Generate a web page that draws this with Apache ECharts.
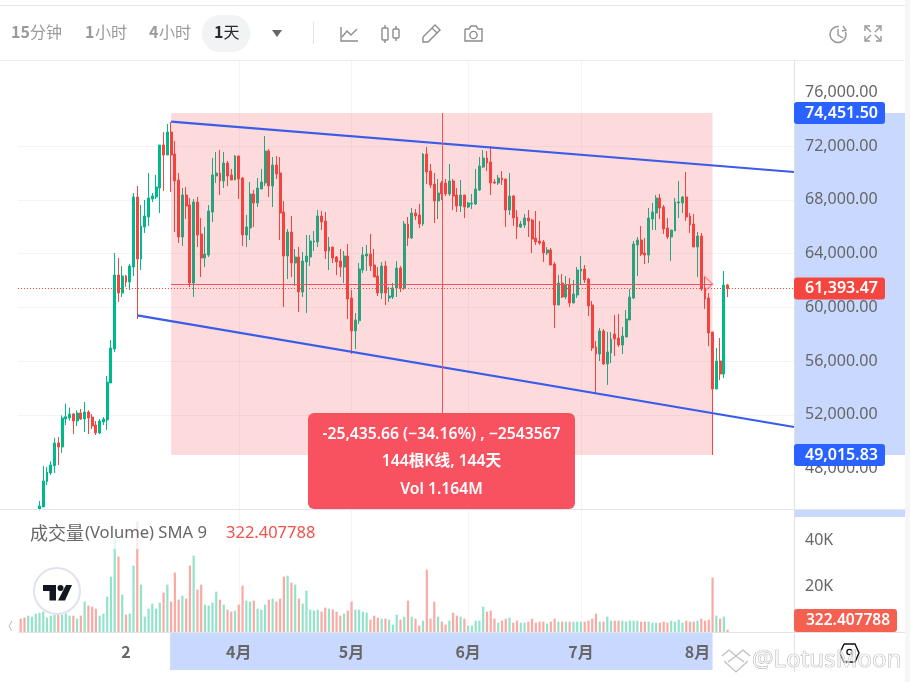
<!DOCTYPE html>
<html><head><meta charset="utf-8">
<style>html,body{margin:0;padding:0;background:#fff}#c{width:910px;height:682px}</style>
<script src="https://cdn.jsdelivr.net/npm/echarts@6/dist/echarts.min.js"></script>
</head><body><div id="c"></div>
<script>
// ---------- data ----------
const firstCandle = 5; // bars 0-4 lie below the visible price range
const opens = [
45000,45149,47033,47678,48223,
49909,49611,51694,51768,52066, 51545,52140,51694,52214,51842, 51248,50653,51471,51619,54371,
56900,62403,61065,62329,61883, 63000,68205,63594,65974,66717, 68056,68205,68874,72072,71328,
73039,71403,69469,65230,68353, 67610,61809,67833,65453,63668, 63891,67089,69767,69990,69395,
70733,69841,69469,71254,69618, 65379,65899,68428,67758,68800, 69246,71626,69023,70584,69989,
67089,63816,65601,63296,63742, 61139,63370,63742,64857,64857, 66791,66419,64188,64486,63742,
63445,62998,63816,60693,58239, 59002,62775,63816,63965,63147, 62329,61064,63072,60693,60767,
61436,62923,61436,66196,65155, 67014,66865,66196,71402,70138, 69171,67907,69245,69245,68427,
69394,68353,67535,68353,67460, 67684,67684,68725,70435,71105, 70807,69319,69245,69617,69543,
67237,68279,66717,65973,66122, 66643,66494,65155,64932,64858, 64040,64263,63221,60172,61809,
60767,61660,60321,60916,62701, 62850,62106,60172,57049,56528, 58239,55785,56603,58016,57718,
57198,57792,59057,60693,64635, 65007,64040,63891,66568,67014, 68130,67461,65899,65230,65676,
67758,67758,68204,66791,66196, 64486,65304,61436,60693,58164, 53925,56007,55041,61660];
const closes = [
45224,47083,47752,48273,49909,
49611,51768,51867,52066,51545, 52140,51694,52214,51768,51173, 50653,51545,51694,54446,56974,
62403,61065,62329,61883,63073, 68205,63594,66048,66792,68130, 68279,68948,72072,71328,73039,
71328,69395,65230,68353,67535, 61809,67833,65379,63668,63966, 67163,69841,69990,69395,70733,
69767,69469,71254,69543,65379, 65974,68428,67758,68874,69320, 71626,69023,70584,69915,67014,
63816,65601,63296,63742,61139, 63445,63816,64932,64932,66791, 66345,64188,64486,63667,63370,
62998,63816,60618,58239,59057, 62849,63890,63965,63072,62254, 61064,63072,61064,60841,61436,
62923,61436,66196,65155,67014, 66791,66196,71402,70063,69097, 67907,68502,68427,68427,69394,
68279,67535,68353,67460,67758, 67758,68799,70509,71105,70733, 69245,69245,69617,69468,67237,
68279,66643,65973,66196,66643, 66419,65081,64858,64783,64040, 64263,63147,60172,61809,60767,
61660,60321,60990,62775,62850, 62032,60098,56974,56528,58239, 55785,56677,57644,57644,57198,
57867,59131,60767,64709,65007, 63965,63891,66643,67089,68130, 67386,65824,65230,65750,67832,
67832,68204,66717,66122,64486, 65304,61362,60618,58090,53925, 56007,55041,61660,61393.47];
const lows = [
44900,45149,46785,47529,47678,
48273,49165,51248,51570,50578, 51173,51619,50727,50578,50950, 50504,50578,51248,50876,54371,
56677,60396,60768,61511,61288, 62329,59131,62775,65528,66048, 67833,68056,67015,68651,71328,
68577,65602,64784,64561,66568, 61511,60768,64486,62255,63000, 63742,66345,69246,68353,68874,
69023,69469,69469,68056,64561, 64486,65007,65974,67461,68800, 69023,68205,67461,69543,65006,
60023,62106,62255,61585,59652, 60767,59577,63072,64188,64486, 65750,63593,62775,63296,62403,
62255,61808,59131,56528,56900, 58759,62552,62700,62700,62254, 60841,60618,60172,60395,60618,
60767,61139,61288,64560,65081, 66493,65898,66047,69171,68874, 66271,66568,67981,68279,68279,
67237,67089,67089,66642,67386, 67312,67609,68650,70361,70138, 68353,69171,69097,69097,65973,
66866,66048,65081,65899,65899, 65230,64040,64634,64634,63370, 63891,63147,58462,60172,60693,
60618,60023,60321,60693,61660, 61809,59354,56751,53553,56007, 55710,54223,55859,56379,57049,
56528,57792,59057,60618,62329, 63816,63221,63296,65750,65750, 66568,65453,65081,63444,65676,
66643,67014,66420,65527,64486, 62255,61213,59875,57123,49015.83, 53925,54595,54744,60767];
const highs = [
45596,48199,48124,48546,50281,
50355,51967,52834,52537,52140, 52338,52438,52958,52338,52066, 51545,51694,51842,54892,57569,
64040,63668,63073,62403,63222, 68502,69023,67610,67982,69990, 68502,69841,72072,73039,73634,
73782,72370,69990,68874,68948, 68130,68056,68205,66643,65974, 67610,71105,71551,71700,71551,
70882,70287,71328,71254,69692, 66866,69320,68725,69618,70287, 72741,71774,71180,71254,71179,
67907,65824,66791,64337,64486, 64114,65378,65378,65676,67237, 67163,67089,65229,64486,63816,
64337,64188,64709,61288,59577, 63296,64486,64634,65452,64337, 62998,63370,63444,61510,61808,
63444,63072,66419,66717,67386, 67312,67684,71476,71923,70658, 69989,69543,69394,69543,70658,
69543,68873,69468,68353,67832, 68427,70286,71179,71699,71625, 71997,69543,69840,70138,69543,
69989,68353,67237,66419,66940, 67237,66568,67163,66419,65007, 64486,64412,63370,62404,62478,
62329,62180,62032,63000,63816, 63147,62180,60470,57495,58462, 58387,58164,58164,59429,59503,
58536,59800,61362,64932,65230, 66048,65155,67386,67758,68353, 68427,67609,66643,65750,68130,
69394,68279,70064,67014,66940, 65601,65527,62255,61065,58164, 56974,57718,62701,61734];
const volumes = [
5800,6235,7105,6670,7975, 8410,8845,6235,7105,7540, 7540,7540,7975,7105,7105, 5800,7105,13195,11455,11020,
10150,7105,7975,15370,24070, 40890,32770,16240,7540,7975, 28855,47995,20590,6670,10150, 12325,10150,12760,17110,20590,
13195,25810,14065,15805,14500, 28855,33205,18415,20590,11890, 11455,12760,17545,14065,11890, 9715,8845,9280,11890,20155,
13630,13195,13630,10150,9715, 11890,14065,14500,13195,14500, 24070,24505,21460,20590,14500, 12325,17980,9715,9280,9715,
8845,10585,10150,9715,8845, 7105,7975,9280,13195,9715, 9715,8845,8410,5365,7105, 6235,5800,5800,5365,3190,
7540,5365,6670,13630,6670, 5800,2755,4930,27115,5800, 13195,6670,4495,3190,4930, 8410,7105,6670,5800,2755,
2755,4930,4930,11020,8845, 9280,5800,4060,4930,5800, 6235,4060,4930,4060,4060, 4495,5800,4060,4495,4495,
3625,4495,5800,4495,4495, 4495,4495,4495,4495,4495, 4495,4930,5800,7975,4495, 4495,6670,4930,4930,4930,
4930,4495,4930,4930,4930, 4495,4495,4495,4060,4060, 4060,4495,4060,4930,4495, 5365,4060,4930,4495,4495,
4930,5800,4930,5365,23635, 7105,5800,6670,1015];
const firstBarsUp = [false,false,true,true,true];
const priceTicks = [48000,52000,56000,60000,64000,68000,72000,76000];
const volumeTicks = [20000,40000];
const monthBars = [28,58,88,119,149,180];
const monthLabels = ['2','4月','5月','6月','7月','8月'];
const rangeStartBar = 40, rangeEndBar = 184;
const rangeTop = 74451.50, rangeBottom = 49015.83, rangeMid = 61733.67;
const rangeMidBar = 112;
const lastPrice = 61393.47, lastVolumeText = '322.407788';
const upperLineBars = [40,205.66], upperLinePrices = [73807,70064];
const lowerLineBars = [31,205.66], lowerLinePrices = [59404,51100];
const xMin = -0.718, xMax = 205.66;

// ---------- palette ----------
const GREEN='#00b98a', RED='#f4463f', VOLG='#93e2ca', VOLR='#f9aaa4', BAND='#c9d8ff', BLUE='#2962ff',
      GRID='#f3f4f6', AX='#e0e1e4', TXT='#666666', LINE='#3a5ce8';
const FONT='"Noto Sans","Noto Sans CJK SC",sans-serif';
const CJK='"Noto Sans CJK SC","Noto Sans",sans-serif';

const candleData = opens.map((o,k)=>[k+firstCandle,o,closes[k],lows[k],highs[k]]);
const volumeData = volumes.map((v,i)=>{
  const up = i<firstCandle ? firstBarsUp[i] : closes[i-firstCandle]>=opens[i-firstCandle];
  return {value:[i,v],itemStyle:{color:up?VOLG:VOLR}};
});
const fmtPrice = v => v.toLocaleString('en-US',{minimumFractionDigits:2,maximumFractionDigits:2});
const vSplit = {show:true,showMinLine:false,showMaxLine:false,lineStyle:{color:GRID,width:1}};

const chart = echarts.init(document.getElementById('c'),null,{renderer:'canvas'});
chart.setOption({
  animation:false,
  backgroundColor:'#fff',
  grid:[{left:18,top:60,width:776,height:449,containLabel:false},
        {left:18,top:510,width:776,height:122,containLabel:false}],
  xAxis:[
    {type:'value',gridIndex:0,min:xMin,max:xMax,
     axisLine:{show:false,onZero:false},axisTick:{show:false,customValues:monthBars},axisLabel:{show:false,customValues:monthBars},
     splitLine:vSplit},
    {type:'value',gridIndex:1,min:xMin,max:xMax,
     axisLine:{show:false,onZero:false},axisTick:{show:false,customValues:monthBars},
     axisLabel:{show:true,customValues:monthBars,margin:12,color:TXT,fontSize:16,fontWeight:'bold',fontFamily:CJK,
       formatter:v=>monthLabels[monthBars.indexOf(v)]||''},
     splitLine:vSplit}
  ],
  yAxis:[
    {type:'value',gridIndex:0,position:'right',min:45000,max:78394,
     axisLine:{show:true,onZero:false,lineStyle:{color:AX}},axisTick:{show:false,customValues:priceTicks},
     axisLabel:{customValues:priceTicks,margin:11,color:TXT,fontSize:16,fontFamily:FONT,formatter:fmtPrice},
     splitLine:vSplit},
    {type:'value',gridIndex:1,position:'right',min:0,max:53043,
     axisLine:{show:true,onZero:false,lineStyle:{color:AX}},axisTick:{show:false,customValues:volumeTicks},
     axisLabel:{customValues:volumeTicks,margin:11,color:TXT,fontSize:16,fontFamily:FONT,formatter:v=>(v/1000)+'K'},
     splitLine:vSplit}
  ],
  series:[
    {type:'candlestick',xAxisIndex:0,yAxisIndex:0,data:candleData,barWidth:2.4,z:2,
     encode:{x:0,y:[1,2,3,4]},
     itemStyle:{color:GREEN,color0:RED,borderColor:GREEN,borderColor0:RED,borderWidth:1}},
    {type:'bar',xAxisIndex:1,yAxisIndex:1,data:volumeData,barWidth:2.2,z:2},
    {type:'line',xAxisIndex:0,yAxisIndex:0,data:[],z:5,silent:true,
     markArea:{z:5,silent:true,itemStyle:{color:'rgba(242,54,69,0.18)',borderWidth:0},
       data:[[{coord:[rangeStartBar,rangeTop]},{coord:[rangeEndBar,rangeBottom]}]]},
     markLine:{z:7,silent:true,symbol:'none',label:{show:false},
       lineStyle:{color:'#f4525a',width:1,type:'solid'},
       data:[
        [{coord:[rangeStartBar,rangeMid]},{coord:[rangeEndBar,rangeMid]}],
        [{coord:[rangeMidBar,rangeTop]},{coord:[rangeMidBar,rangeBottom]}],
        [{coord:[xMin,lastPrice],lineStyle:{color:'#f4463f',width:1,type:[1,2]}},{coord:[xMax,lastPrice]}]
       ]},
     markPoint:{z:7,silent:true,symbol:'path://M0 0L8 7.5L0 15Z',symbolSize:[8,15],symbolOffset:[-4,0],
       itemStyle:{color:'rgba(255,255,255,0)',borderColor:'rgba(242,70,80,0.45)',borderWidth:1.5},label:{show:false},
       data:[{coord:[rangeEndBar,rangeMid]}]}},
    {type:'line',xAxisIndex:0,yAxisIndex:0,z:6,silent:true,symbol:'none',lineStyle:{color:LINE,width:2.2},
     data:upperLineBars.map((b,k)=>[b,upperLinePrices[k]])},
    {type:'line',xAxisIndex:0,yAxisIndex:0,z:6,silent:true,symbol:'none',lineStyle:{color:LINE,width:2.2},
     data:lowerLineBars.map((b,k)=>[b,lowerLinePrices[k]])}
  ]
});

// ---------- chrome placed after the axes exist ----------
const yP = p => chart.convertToPixel({yAxisIndex:0},p);
const xB = b => chart.convertToPixel({xAxisIndex:1},b);
const G=[];
const text=(x,y,t,o={})=>G.push({type:'text',x,y,z:o.z||100,style:{text:t,fill:o.fill||TXT,
  font:(o.weight||'normal')+' '+(o.size||16)+'px '+(o.family||CJK),align:o.align||'left',verticalAlign:'middle'}});
const rect=(x,y,w,h,fill,r,z)=>G.push({type:'rect',z:z===undefined?100:z,shape:{x,y,width:w,height:h,r:r||0},style:{fill}});
const line=(x1,y1,x2,y2,c,w,z)=>G.push({type:'line',z:z===undefined?100:z,shape:{x1,y1,x2,y2},style:{stroke:c,lineWidth:w||1}});
const poly=(pts,c,w,fill)=>G.push({type:fill?'polygon':'polyline',z:100,shape:{points:pts},style:fill?{fill}:{stroke:c,lineWidth:w||1.4,fill:'none'}});
const circ=(cx,cy,r,fill,stroke,w)=>G.push({type:'circle',z:100,shape:{cx,cy,r},style:{fill:fill||'none',stroke:stroke||'none',lineWidth:w||1}});

// selection bands beneath the labels
rect(795,yP(rangeTop),110,yP(rangeBottom)-yP(rangeTop),BAND,0,-1);
rect(795,510,110,7,BAND,0,-1);
rect(xB(rangeStartBar)-1,633,xB(rangeEndBar)-xB(rangeStartBar)+1,37,BAND,0,-1);
// frame
rect(905,0,5,682,'#f6f6f7',0,-1);
line(0,5.5,905,5.5,'#e6e7ea',1);
line(0,60.5,905,60.5,'#eceded',1);
line(0,509.5,905,509.5,'#e3e4e7',1);
line(18,632.5,905,632.5,'#e3e4e7',1);
line(794.5,632,794.5,672,AX,1);

// toolbar
const GR='#9a9a9a';
text(11,32,'15',{fill:GR,weight:'bold'});text(30,32,'分钟',{fill:GR});
text(85,32,'1',{fill:GR,weight:'bold'});text(95,32,'小时',{fill:GR});
text(149,32,'4',{fill:GR,weight:'bold'});text(159,32,'小时',{fill:GR});
rect(202,15,48,37,'#f2f3f5',18);
text(214,32,'1',{fill:'#2a2a2a',weight:'bold'});text(223.5,32,'天',{fill:'#2a2a2a'});
poly([[272,30],[282,30],[277,37]],null,0,'#666');
line(313.5,22,313.5,44,'#e2e3e6',1);
const IC='#8c8c8c';
poly([[341,27],[341,41],[358,41]],IC);poly([[342,37],[347,31],[351,35],[357,29]],IC);
[[382,28,6,12],[393,29,6,9]].forEach(a=>G.push({type:'rect',z:100,shape:{x:a[0],y:a[1],width:a[2],height:a[3],r:1},style:{fill:'none',stroke:IC,lineWidth:1.4}}));
line(385,25,385,28,IC,1.4);line(385,40,385,43,IC,1.4);line(396,26,396,29,IC,1.4);line(396,38,396,41,IC,1.4);
poly([[423,37],[435,25],[440,30],[428,42],[423,42],[423,37]],IC);line(432,28,437,33,IC,1.2);
poly([[465,29],[469,29],[471,26],[476,26],[478,29],[482,29],[482,41],[465,41],[465,29]],IC);circ(473.5,35,3.6,null,IC,1.4);
G.push({type:'arc',z:100,shape:{cx:838,cy:34.5,r:8,startAngle:-0.35,endAngle:2*Math.PI-1.45,clockwise:true},style:{stroke:'#999',lineWidth:1.5,fill:'none'}});
poly([[838,29],[838,35],[843,38]],'#999',1.4);poly([[843,26],[846,30],[842,31]],'#999',1.4);
[[865,26,1,1],[881,26,-1,1],[865,41,1,-1],[881,41,-1,-1]].forEach(a=>{
  poly([[a[0],a[1]+5*a[3]],[a[0],a[1]],[a[0]+5*a[2],a[1]]],'#999',1.4);
  line(a[0]+0.5*a[2],a[1]+0.5*a[3],a[0]+6*a[2],a[1]+6*a[3],'#999',1.4);
});

// volume legend with veil, logo
rect(20,520,310,29,'rgba(255,255,255,0.72)');
text(30,533,'成交量',{size:18,fill:'#666'});
text(85,533,'(Volume) SMA 9',{size:16.6,fill:'#666',family:FONT});
text(226,533,lastVolumeText,{size:16.5,fill:'#f4524a',family:FONT});
circ(57,591,23,'#fff','#dfe3ef',2);
poly([[43,585],[56,585],[56,600.5],[49.5,600.5],[49.5,591],[43,591]],null,0,'#131722');
circ(60.5,588,3,'#131722');
poly([[66,585],[72,585],[65,600.5],[58,600.5]],null,0,'#131722');
poly([[12,621],[9,626],[12,631]],'#b8bcc8',1);

// measurement box
rect(308,413,267,96,'#f8515f',6);
const boxFont='"Noto Sans","Noto Sans CJK SC",sans-serif';
text(441.5,435,'-25,435.66 (−34.16%) , −2543567',{fill:'#fff',size:15.7,align:'center',weight:'600',family:boxFont});
text(441.5,462,'144根K线, 144天',{fill:'#fff',size:15.7,align:'center',weight:'600',family:boxFont});
text(441.5,490,'Vol 1.164M',{fill:'#fff',size:15.7,align:'center',weight:'600',family:boxFont});

// price tags
const tag=(p,t,c,w)=>{const y=yP(p);rect(794,y-11,w,22,c,3);
  text(805,y,t,{fill:'#fff',size:16,weight:'600',family:FONT});};
tag(rangeTop,fmtPrice(rangeTop),BLUE,91);
tag(rangeBottom,fmtPrice(rangeBottom),BLUE,91);
tag(lastPrice,fmtPrice(lastPrice),'#f4463f',91);
rect(794,609,103,23,'#f66050',3);
text(806,620.5,lastVolumeText,{fill:'#fff',size:15.5,weight:'600',family:FONT});

// watermark
const W='#bfbfbf';
poly([[722,656],[729,650],[736,656]],W,1.2);poly([[736,656],[743,650],[750,656]],W,1.2);
poly([[728,662],[736,656],[744,662]],W,1.2);poly([[724,661],[736,672],[748,661]],W,1.2);
poly([[844,644],[855,644],[859,653],[855,662],[844,662],[840,653],[844,644]],'#111',1.4);
circ(849.5,652,2.6,null,'#111',1.3);
G.push({type:'text',z:101,x:752,y:660,style:{text:'@LotusMoon',fill:'rgba(255,255,255,0.6)',stroke:'#a9a9a9',lineWidth:0.7,
  font:'normal 24px "Noto Sans",sans-serif',verticalAlign:'middle'}});
chart.setOption({graphic:{elements:G}});
</script></body></html>
